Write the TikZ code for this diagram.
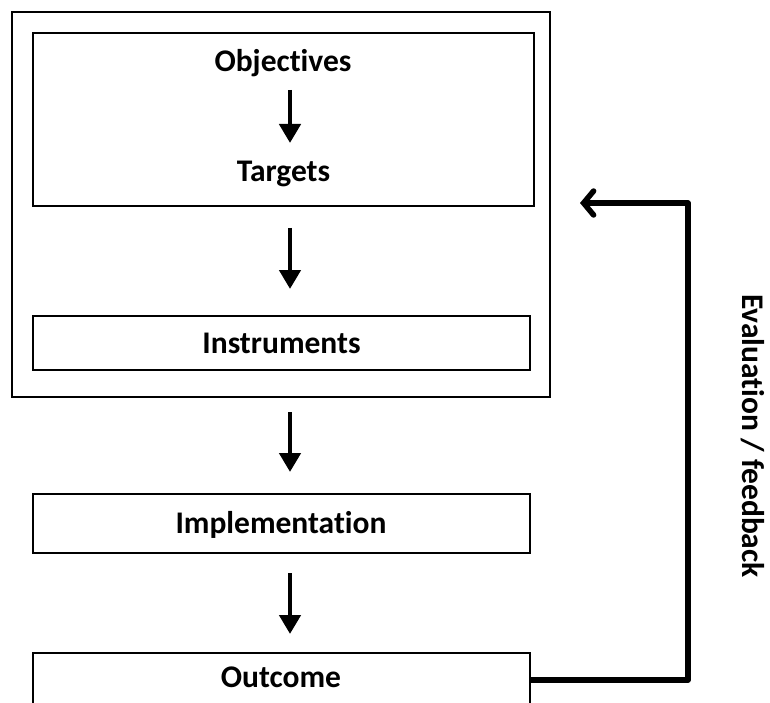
\documentclass[tikz,border=0pt]{standalone}
\usepackage{fontspec}
\setmainfont{Carlito}[Ligatures=CommonOff]
\usetikzlibrary{arrows.meta}
\begin{document}
\begin{tikzpicture}[x=1pt,y=-1pt,
  box/.style={draw,line width=1.6pt},
  lbl/.style={font=\bfseries\fontsize{31.5}{36}\selectfont,inner sep=0pt,anchor=base},
  down/.style={line width=4.5pt,-{Triangle[width=21pt,length=19pt]}},
  fb/.style={line width=5.5pt,line join=round,-{Straight Barb[length=10pt,width=24pt,line cap=round,line width=5.5pt]}}]
\useasboundingbox (0,0) rectangle (770,703);
\draw[box] (12,12) rectangle (550,397);
\draw[box] (33,33) rectangle (534,206);
\node[lbl] (obj) at (283,72) {Objectives};
\node[lbl] (tar) at (283.5,182) {Targets};
\coordinate (a1s) at (290,90); \coordinate (a1e) at (290,143);
\draw[down] (a1s) -- (a1e);
\coordinate (a2s) at (290,228); \coordinate (a2e) at (290,289);
\draw[down] (a2s) -- (a2e);
\draw[box] (33,316) rectangle (530,370);
\node[lbl] (ins) at (281.5,353) {Instruments};
\coordinate (a3s) at (290,412); \coordinate (a3e) at (290,472);
\draw[down] (a3s) -- (a3e);
\draw[box] (33,494) rectangle (530,553);
\node[lbl] (imp) at (281,533) {Implementation};
\coordinate (a4s) at (290,573); \coordinate (a4e) at (290,634);
\draw[down] (a4s) -- (a4e);
\draw[box] (33,720) -- (33,653) -- (530,653) -- (530,720);
\node[lbl] (out) at (281,687) {Outcome};
\coordinate (fbs) at (530,680);
\coordinate (fbe) at (580,203);
\draw[fb] (fbs) -- (688,680) -- (688,203) -- (fbe);
\node[font=\bfseries\fontsize{31.5}{36}\selectfont,inner sep=0pt,rotate=-90] (eval) at (753,436) {Evaluation / feedback};
\end{tikzpicture}
\end{document}
